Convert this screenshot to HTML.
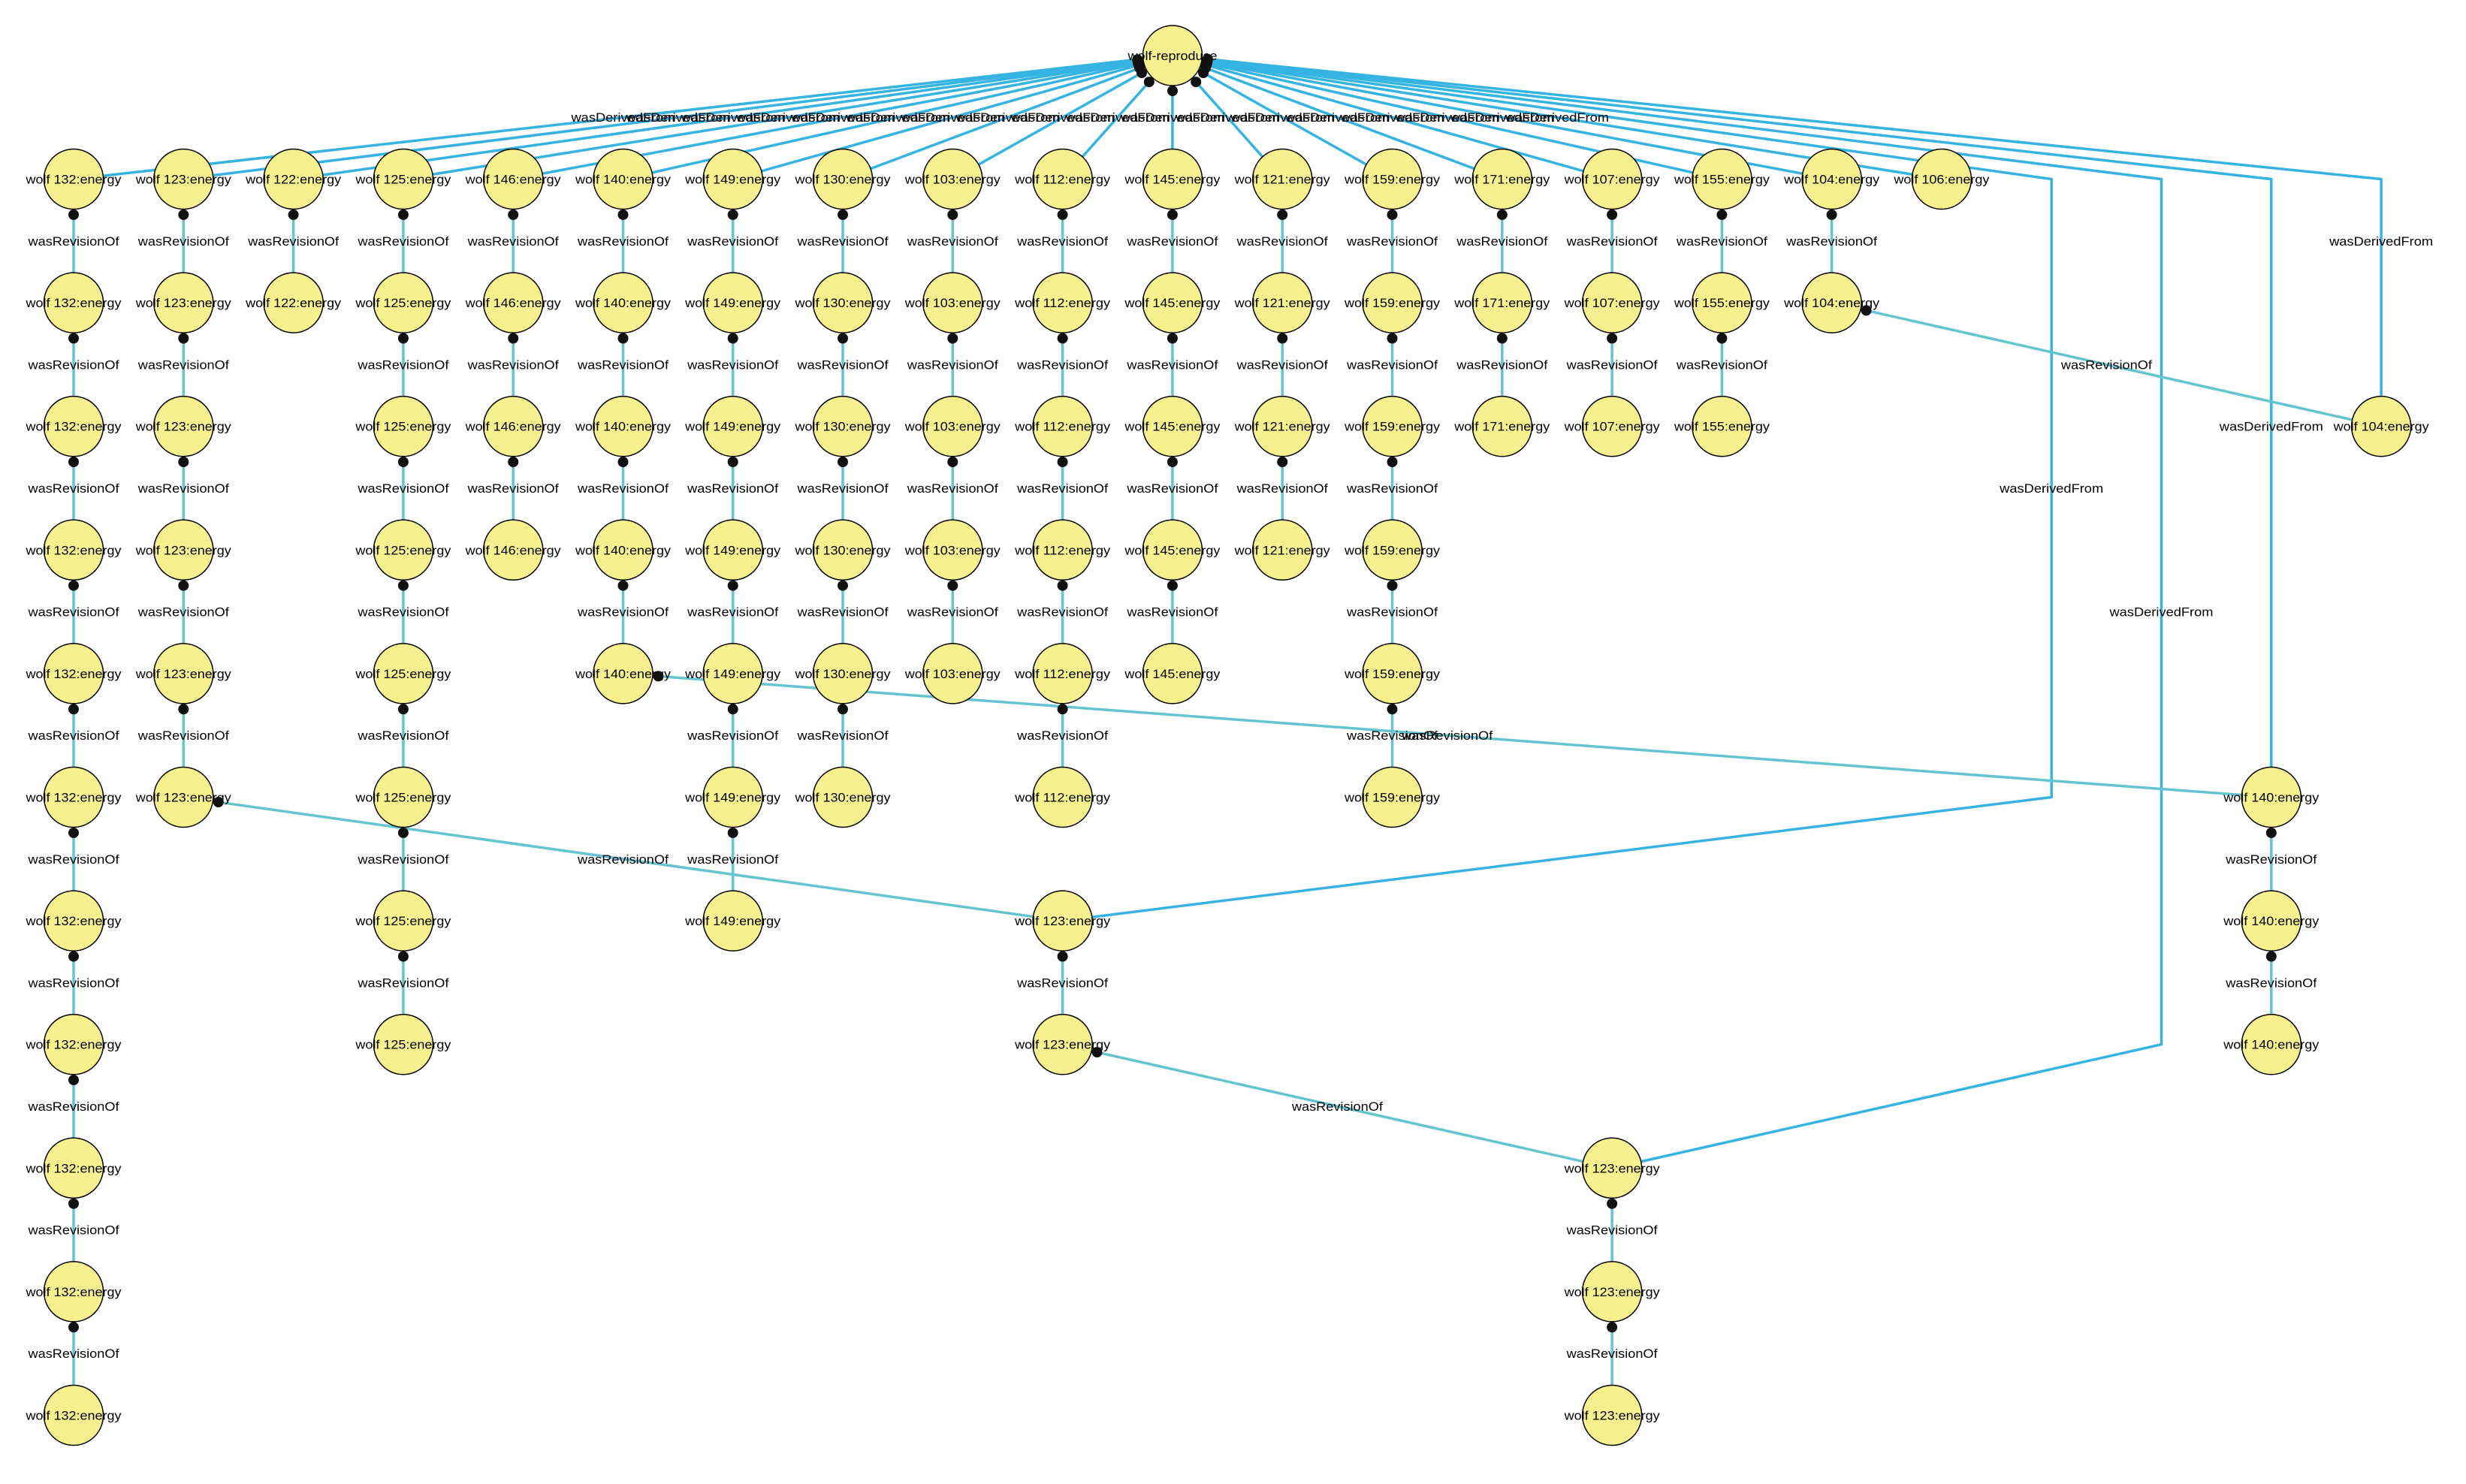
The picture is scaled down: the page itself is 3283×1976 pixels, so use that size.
<!DOCTYPE html>
<html><head><meta charset="utf-8"><title>wolf-reproduce provenance</title>
<style>html,body{margin:0;padding:0;background:#fff;width:3283px;height:1976px;overflow:hidden}svg{display:block}</style>
</head><body>
<svg xmlns="http://www.w3.org/2000/svg" width="3283" height="1976" viewBox="0 0 3283 1976">
<rect width="3283" height="1976" fill="#fff"/>
<!-- derived edges -->
<g fill="none" stroke="#35b4e2" stroke-width="3.5" stroke-linejoin="round">
<path d="M1561 74L98 238.5M1561 74L244.3 238.5M1561 74L390.6 238.5M1561 74L536.9 238.5M1561 74L683.2 238.5M1561 74L829.5 238.5M1561 74L975.7 238.5M1561 74L1122 238.5M1561 74L1268.3 238.5M1561 74L1414.6 238.5M1561 74L1560.9 238.5M1561 74L1707.2 238.5M1561 74L1853.5 238.5M1561 74L1999.8 238.5M1561 74L2146.1 238.5M1561 74L2292.4 238.5M1561 74L2438.6 238.5M1561 74L2584.9 238.5"/>
<path d="M1561 74L2731.2 238.5V1061.5L1414.6 1226.1"/>
<path d="M1561 74L2877.5 238.5V1390.7L2146.1 1555.3"/>
<path d="M1561 74L3023.8 238.5V1061.5"/>
<path d="M1561 74L3170.1 238.5V567.7"/>
</g>
<!-- revision edges -->
<g fill="none" stroke="#64c4d0" stroke-width="3.5">
<path d="M98 238.5V1884.5M244.3 238.5V1061.5M390.6 238.5V403.1M536.9 238.5V1390.7M683.2 238.5V732.3M829.5 238.5V896.9M975.7 238.5V1226.1M1122 238.5V1061.5M1268.3 238.5V896.9M1414.6 238.5V1061.5M1414.6 1226.1V1390.7M1560.9 238.5V896.9M1707.2 238.5V732.3M1853.5 238.5V1061.5M1999.8 238.5V567.7M2146.1 238.5V567.7M2146.1 1555.3V1884.5M2292.4 238.5V567.7M2438.6 238.5V403.1M3023.8 1061.5V1390.7"/>
<path d="M244.3 1061.5L1414.6 1226.1M829.5 896.9L3023.8 1061.5M2438.6 403.1L3170.1 567.7M1414.6 1390.7L2146.1 1555.3"/>
</g>
<!-- nodes -->
<g fill="#f6f08e" stroke="#000" stroke-width="1.5">
<ellipse cx="1561" cy="74" rx="39.5" ry="40"/>
<ellipse cx="98" cy="238.5" rx="39.5" ry="40"/><ellipse cx="98" cy="403.1" rx="39.5" ry="40"/><ellipse cx="98" cy="567.7" rx="39.5" ry="40"/><ellipse cx="98" cy="732.3" rx="39.5" ry="40"/><ellipse cx="98" cy="896.9" rx="39.5" ry="40"/><ellipse cx="98" cy="1061.5" rx="39.5" ry="40"/><ellipse cx="98" cy="1226.1" rx="39.5" ry="40"/><ellipse cx="98" cy="1390.7" rx="39.5" ry="40"/><ellipse cx="98" cy="1555.3" rx="39.5" ry="40"/><ellipse cx="98" cy="1719.9" rx="39.5" ry="40"/><ellipse cx="98" cy="1884.5" rx="39.5" ry="40"/>
<ellipse cx="244.3" cy="238.5" rx="39.5" ry="40"/><ellipse cx="244.3" cy="403.1" rx="39.5" ry="40"/><ellipse cx="244.3" cy="567.7" rx="39.5" ry="40"/><ellipse cx="244.3" cy="732.3" rx="39.5" ry="40"/><ellipse cx="244.3" cy="896.9" rx="39.5" ry="40"/><ellipse cx="244.3" cy="1061.5" rx="39.5" ry="40"/>
<ellipse cx="390.6" cy="238.5" rx="39.5" ry="40"/><ellipse cx="390.6" cy="403.1" rx="39.5" ry="40"/>
<ellipse cx="536.9" cy="238.5" rx="39.5" ry="40"/><ellipse cx="536.9" cy="403.1" rx="39.5" ry="40"/><ellipse cx="536.9" cy="567.7" rx="39.5" ry="40"/><ellipse cx="536.9" cy="732.3" rx="39.5" ry="40"/><ellipse cx="536.9" cy="896.9" rx="39.5" ry="40"/><ellipse cx="536.9" cy="1061.5" rx="39.5" ry="40"/><ellipse cx="536.9" cy="1226.1" rx="39.5" ry="40"/><ellipse cx="536.9" cy="1390.7" rx="39.5" ry="40"/>
<ellipse cx="683.2" cy="238.5" rx="39.5" ry="40"/><ellipse cx="683.2" cy="403.1" rx="39.5" ry="40"/><ellipse cx="683.2" cy="567.7" rx="39.5" ry="40"/><ellipse cx="683.2" cy="732.3" rx="39.5" ry="40"/>
<ellipse cx="829.5" cy="238.5" rx="39.5" ry="40"/><ellipse cx="829.5" cy="403.1" rx="39.5" ry="40"/><ellipse cx="829.5" cy="567.7" rx="39.5" ry="40"/><ellipse cx="829.5" cy="732.3" rx="39.5" ry="40"/><ellipse cx="829.5" cy="896.9" rx="39.5" ry="40"/>
<ellipse cx="975.7" cy="238.5" rx="39.5" ry="40"/><ellipse cx="975.7" cy="403.1" rx="39.5" ry="40"/><ellipse cx="975.7" cy="567.7" rx="39.5" ry="40"/><ellipse cx="975.7" cy="732.3" rx="39.5" ry="40"/><ellipse cx="975.7" cy="896.9" rx="39.5" ry="40"/><ellipse cx="975.7" cy="1061.5" rx="39.5" ry="40"/><ellipse cx="975.7" cy="1226.1" rx="39.5" ry="40"/>
<ellipse cx="1122" cy="238.5" rx="39.5" ry="40"/><ellipse cx="1122" cy="403.1" rx="39.5" ry="40"/><ellipse cx="1122" cy="567.7" rx="39.5" ry="40"/><ellipse cx="1122" cy="732.3" rx="39.5" ry="40"/><ellipse cx="1122" cy="896.9" rx="39.5" ry="40"/><ellipse cx="1122" cy="1061.5" rx="39.5" ry="40"/>
<ellipse cx="1268.3" cy="238.5" rx="39.5" ry="40"/><ellipse cx="1268.3" cy="403.1" rx="39.5" ry="40"/><ellipse cx="1268.3" cy="567.7" rx="39.5" ry="40"/><ellipse cx="1268.3" cy="732.3" rx="39.5" ry="40"/><ellipse cx="1268.3" cy="896.9" rx="39.5" ry="40"/>
<ellipse cx="1414.6" cy="238.5" rx="39.5" ry="40"/><ellipse cx="1414.6" cy="403.1" rx="39.5" ry="40"/><ellipse cx="1414.6" cy="567.7" rx="39.5" ry="40"/><ellipse cx="1414.6" cy="732.3" rx="39.5" ry="40"/><ellipse cx="1414.6" cy="896.9" rx="39.5" ry="40"/><ellipse cx="1414.6" cy="1061.5" rx="39.5" ry="40"/><ellipse cx="1414.6" cy="1226.1" rx="39.5" ry="40"/><ellipse cx="1414.6" cy="1390.7" rx="39.5" ry="40"/>
<ellipse cx="1560.9" cy="238.5" rx="39.5" ry="40"/><ellipse cx="1560.9" cy="403.1" rx="39.5" ry="40"/><ellipse cx="1560.9" cy="567.7" rx="39.5" ry="40"/><ellipse cx="1560.9" cy="732.3" rx="39.5" ry="40"/><ellipse cx="1560.9" cy="896.9" rx="39.5" ry="40"/>
<ellipse cx="1707.2" cy="238.5" rx="39.5" ry="40"/><ellipse cx="1707.2" cy="403.1" rx="39.5" ry="40"/><ellipse cx="1707.2" cy="567.7" rx="39.5" ry="40"/><ellipse cx="1707.2" cy="732.3" rx="39.5" ry="40"/>
<ellipse cx="1853.5" cy="238.5" rx="39.5" ry="40"/><ellipse cx="1853.5" cy="403.1" rx="39.5" ry="40"/><ellipse cx="1853.5" cy="567.7" rx="39.5" ry="40"/><ellipse cx="1853.5" cy="732.3" rx="39.5" ry="40"/><ellipse cx="1853.5" cy="896.9" rx="39.5" ry="40"/><ellipse cx="1853.5" cy="1061.5" rx="39.5" ry="40"/>
<ellipse cx="1999.8" cy="238.5" rx="39.5" ry="40"/><ellipse cx="1999.8" cy="403.1" rx="39.5" ry="40"/><ellipse cx="1999.8" cy="567.7" rx="39.5" ry="40"/>
<ellipse cx="2146.1" cy="238.5" rx="39.5" ry="40"/><ellipse cx="2146.1" cy="403.1" rx="39.5" ry="40"/><ellipse cx="2146.1" cy="567.7" rx="39.5" ry="40"/><ellipse cx="2146.1" cy="1555.3" rx="39.5" ry="40"/><ellipse cx="2146.1" cy="1719.9" rx="39.5" ry="40"/><ellipse cx="2146.1" cy="1884.5" rx="39.5" ry="40"/>
<ellipse cx="2292.4" cy="238.5" rx="39.5" ry="40"/><ellipse cx="2292.4" cy="403.1" rx="39.5" ry="40"/><ellipse cx="2292.4" cy="567.7" rx="39.5" ry="40"/>
<ellipse cx="2438.6" cy="238.5" rx="39.5" ry="40"/><ellipse cx="2438.6" cy="403.1" rx="39.5" ry="40"/>
<ellipse cx="2584.9" cy="238.5" rx="39.5" ry="40"/>
<ellipse cx="3023.8" cy="1061.5" rx="39.5" ry="40"/><ellipse cx="3023.8" cy="1226.1" rx="39.5" ry="40"/><ellipse cx="3023.8" cy="1390.7" rx="39.5" ry="40"/>
<ellipse cx="3170.1" cy="567.7" rx="39.5" ry="40"/>
</g>
<!-- node labels -->
<g font-family="'Liberation Sans', Arial, sans-serif" font-size="17" fill="#000" text-anchor="middle">
<text x="1561" y="80" textLength="119" lengthAdjust="spacingAndGlyphs">wolf-reproduce</text>
<text x="98" y="244.5" textLength="127" lengthAdjust="spacingAndGlyphs">wolf 132:energy</text>
<text x="98" y="409.1" textLength="127" lengthAdjust="spacingAndGlyphs">wolf 132:energy</text>
<text x="98" y="573.7" textLength="127" lengthAdjust="spacingAndGlyphs">wolf 132:energy</text>
<text x="98" y="738.3" textLength="127" lengthAdjust="spacingAndGlyphs">wolf 132:energy</text>
<text x="98" y="902.9" textLength="127" lengthAdjust="spacingAndGlyphs">wolf 132:energy</text>
<text x="98" y="1067.5" textLength="127" lengthAdjust="spacingAndGlyphs">wolf 132:energy</text>
<text x="98" y="1232.1" textLength="127" lengthAdjust="spacingAndGlyphs">wolf 132:energy</text>
<text x="98" y="1396.7" textLength="127" lengthAdjust="spacingAndGlyphs">wolf 132:energy</text>
<text x="98" y="1561.3" textLength="127" lengthAdjust="spacingAndGlyphs">wolf 132:energy</text>
<text x="98" y="1725.9" textLength="127" lengthAdjust="spacingAndGlyphs">wolf 132:energy</text>
<text x="98" y="1890.5" textLength="127" lengthAdjust="spacingAndGlyphs">wolf 132:energy</text>
<text x="244.3" y="244.5" textLength="127" lengthAdjust="spacingAndGlyphs">wolf 123:energy</text>
<text x="244.3" y="409.1" textLength="127" lengthAdjust="spacingAndGlyphs">wolf 123:energy</text>
<text x="244.3" y="573.7" textLength="127" lengthAdjust="spacingAndGlyphs">wolf 123:energy</text>
<text x="244.3" y="738.3" textLength="127" lengthAdjust="spacingAndGlyphs">wolf 123:energy</text>
<text x="244.3" y="902.9" textLength="127" lengthAdjust="spacingAndGlyphs">wolf 123:energy</text>
<text x="244.3" y="1067.5" textLength="127" lengthAdjust="spacingAndGlyphs">wolf 123:energy</text>
<text x="390.6" y="244.5" textLength="127" lengthAdjust="spacingAndGlyphs">wolf 122:energy</text>
<text x="390.6" y="409.1" textLength="127" lengthAdjust="spacingAndGlyphs">wolf 122:energy</text>
<text x="536.9" y="244.5" textLength="127" lengthAdjust="spacingAndGlyphs">wolf 125:energy</text>
<text x="536.9" y="409.1" textLength="127" lengthAdjust="spacingAndGlyphs">wolf 125:energy</text>
<text x="536.9" y="573.7" textLength="127" lengthAdjust="spacingAndGlyphs">wolf 125:energy</text>
<text x="536.9" y="738.3" textLength="127" lengthAdjust="spacingAndGlyphs">wolf 125:energy</text>
<text x="536.9" y="902.9" textLength="127" lengthAdjust="spacingAndGlyphs">wolf 125:energy</text>
<text x="536.9" y="1067.5" textLength="127" lengthAdjust="spacingAndGlyphs">wolf 125:energy</text>
<text x="536.9" y="1232.1" textLength="127" lengthAdjust="spacingAndGlyphs">wolf 125:energy</text>
<text x="536.9" y="1396.7" textLength="127" lengthAdjust="spacingAndGlyphs">wolf 125:energy</text>
<text x="683.2" y="244.5" textLength="127" lengthAdjust="spacingAndGlyphs">wolf 146:energy</text>
<text x="683.2" y="409.1" textLength="127" lengthAdjust="spacingAndGlyphs">wolf 146:energy</text>
<text x="683.2" y="573.7" textLength="127" lengthAdjust="spacingAndGlyphs">wolf 146:energy</text>
<text x="683.2" y="738.3" textLength="127" lengthAdjust="spacingAndGlyphs">wolf 146:energy</text>
<text x="829.5" y="244.5" textLength="127" lengthAdjust="spacingAndGlyphs">wolf 140:energy</text>
<text x="829.5" y="409.1" textLength="127" lengthAdjust="spacingAndGlyphs">wolf 140:energy</text>
<text x="829.5" y="573.7" textLength="127" lengthAdjust="spacingAndGlyphs">wolf 140:energy</text>
<text x="829.5" y="738.3" textLength="127" lengthAdjust="spacingAndGlyphs">wolf 140:energy</text>
<text x="829.5" y="902.9" textLength="127" lengthAdjust="spacingAndGlyphs">wolf 140:energy</text>
<text x="975.7" y="244.5" textLength="127" lengthAdjust="spacingAndGlyphs">wolf 149:energy</text>
<text x="975.7" y="409.1" textLength="127" lengthAdjust="spacingAndGlyphs">wolf 149:energy</text>
<text x="975.7" y="573.7" textLength="127" lengthAdjust="spacingAndGlyphs">wolf 149:energy</text>
<text x="975.7" y="738.3" textLength="127" lengthAdjust="spacingAndGlyphs">wolf 149:energy</text>
<text x="975.7" y="902.9" textLength="127" lengthAdjust="spacingAndGlyphs">wolf 149:energy</text>
<text x="975.7" y="1067.5" textLength="127" lengthAdjust="spacingAndGlyphs">wolf 149:energy</text>
<text x="975.7" y="1232.1" textLength="127" lengthAdjust="spacingAndGlyphs">wolf 149:energy</text>
<text x="1122" y="244.5" textLength="127" lengthAdjust="spacingAndGlyphs">wolf 130:energy</text>
<text x="1122" y="409.1" textLength="127" lengthAdjust="spacingAndGlyphs">wolf 130:energy</text>
<text x="1122" y="573.7" textLength="127" lengthAdjust="spacingAndGlyphs">wolf 130:energy</text>
<text x="1122" y="738.3" textLength="127" lengthAdjust="spacingAndGlyphs">wolf 130:energy</text>
<text x="1122" y="902.9" textLength="127" lengthAdjust="spacingAndGlyphs">wolf 130:energy</text>
<text x="1122" y="1067.5" textLength="127" lengthAdjust="spacingAndGlyphs">wolf 130:energy</text>
<text x="1268.3" y="244.5" textLength="127" lengthAdjust="spacingAndGlyphs">wolf 103:energy</text>
<text x="1268.3" y="409.1" textLength="127" lengthAdjust="spacingAndGlyphs">wolf 103:energy</text>
<text x="1268.3" y="573.7" textLength="127" lengthAdjust="spacingAndGlyphs">wolf 103:energy</text>
<text x="1268.3" y="738.3" textLength="127" lengthAdjust="spacingAndGlyphs">wolf 103:energy</text>
<text x="1268.3" y="902.9" textLength="127" lengthAdjust="spacingAndGlyphs">wolf 103:energy</text>
<text x="1414.6" y="244.5" textLength="127" lengthAdjust="spacingAndGlyphs">wolf 112:energy</text>
<text x="1414.6" y="409.1" textLength="127" lengthAdjust="spacingAndGlyphs">wolf 112:energy</text>
<text x="1414.6" y="573.7" textLength="127" lengthAdjust="spacingAndGlyphs">wolf 112:energy</text>
<text x="1414.6" y="738.3" textLength="127" lengthAdjust="spacingAndGlyphs">wolf 112:energy</text>
<text x="1414.6" y="902.9" textLength="127" lengthAdjust="spacingAndGlyphs">wolf 112:energy</text>
<text x="1414.6" y="1067.5" textLength="127" lengthAdjust="spacingAndGlyphs">wolf 112:energy</text>
<text x="1414.6" y="1232.1" textLength="127" lengthAdjust="spacingAndGlyphs">wolf 123:energy</text>
<text x="1414.6" y="1396.7" textLength="127" lengthAdjust="spacingAndGlyphs">wolf 123:energy</text>
<text x="1560.9" y="244.5" textLength="127" lengthAdjust="spacingAndGlyphs">wolf 145:energy</text>
<text x="1560.9" y="409.1" textLength="127" lengthAdjust="spacingAndGlyphs">wolf 145:energy</text>
<text x="1560.9" y="573.7" textLength="127" lengthAdjust="spacingAndGlyphs">wolf 145:energy</text>
<text x="1560.9" y="738.3" textLength="127" lengthAdjust="spacingAndGlyphs">wolf 145:energy</text>
<text x="1560.9" y="902.9" textLength="127" lengthAdjust="spacingAndGlyphs">wolf 145:energy</text>
<text x="1707.2" y="244.5" textLength="127" lengthAdjust="spacingAndGlyphs">wolf 121:energy</text>
<text x="1707.2" y="409.1" textLength="127" lengthAdjust="spacingAndGlyphs">wolf 121:energy</text>
<text x="1707.2" y="573.7" textLength="127" lengthAdjust="spacingAndGlyphs">wolf 121:energy</text>
<text x="1707.2" y="738.3" textLength="127" lengthAdjust="spacingAndGlyphs">wolf 121:energy</text>
<text x="1853.5" y="244.5" textLength="127" lengthAdjust="spacingAndGlyphs">wolf 159:energy</text>
<text x="1853.5" y="409.1" textLength="127" lengthAdjust="spacingAndGlyphs">wolf 159:energy</text>
<text x="1853.5" y="573.7" textLength="127" lengthAdjust="spacingAndGlyphs">wolf 159:energy</text>
<text x="1853.5" y="738.3" textLength="127" lengthAdjust="spacingAndGlyphs">wolf 159:energy</text>
<text x="1853.5" y="902.9" textLength="127" lengthAdjust="spacingAndGlyphs">wolf 159:energy</text>
<text x="1853.5" y="1067.5" textLength="127" lengthAdjust="spacingAndGlyphs">wolf 159:energy</text>
<text x="1999.8" y="244.5" textLength="127" lengthAdjust="spacingAndGlyphs">wolf 171:energy</text>
<text x="1999.8" y="409.1" textLength="127" lengthAdjust="spacingAndGlyphs">wolf 171:energy</text>
<text x="1999.8" y="573.7" textLength="127" lengthAdjust="spacingAndGlyphs">wolf 171:energy</text>
<text x="2146.1" y="244.5" textLength="127" lengthAdjust="spacingAndGlyphs">wolf 107:energy</text>
<text x="2146.1" y="409.1" textLength="127" lengthAdjust="spacingAndGlyphs">wolf 107:energy</text>
<text x="2146.1" y="573.7" textLength="127" lengthAdjust="spacingAndGlyphs">wolf 107:energy</text>
<text x="2146.1" y="1561.3" textLength="127" lengthAdjust="spacingAndGlyphs">wolf 123:energy</text>
<text x="2146.1" y="1725.9" textLength="127" lengthAdjust="spacingAndGlyphs">wolf 123:energy</text>
<text x="2146.1" y="1890.5" textLength="127" lengthAdjust="spacingAndGlyphs">wolf 123:energy</text>
<text x="2292.4" y="244.5" textLength="127" lengthAdjust="spacingAndGlyphs">wolf 155:energy</text>
<text x="2292.4" y="409.1" textLength="127" lengthAdjust="spacingAndGlyphs">wolf 155:energy</text>
<text x="2292.4" y="573.7" textLength="127" lengthAdjust="spacingAndGlyphs">wolf 155:energy</text>
<text x="2438.6" y="244.5" textLength="127" lengthAdjust="spacingAndGlyphs">wolf 104:energy</text>
<text x="2438.6" y="409.1" textLength="127" lengthAdjust="spacingAndGlyphs">wolf 104:energy</text>
<text x="2584.9" y="244.5" textLength="127" lengthAdjust="spacingAndGlyphs">wolf 106:energy</text>
<text x="3023.8" y="1067.5" textLength="127" lengthAdjust="spacingAndGlyphs">wolf 140:energy</text>
<text x="3023.8" y="1232.1" textLength="127" lengthAdjust="spacingAndGlyphs">wolf 140:energy</text>
<text x="3023.8" y="1396.7" textLength="127" lengthAdjust="spacingAndGlyphs">wolf 140:energy</text>
<text x="3170.1" y="573.7" textLength="127" lengthAdjust="spacingAndGlyphs">wolf 104:energy</text>
</g>
<!-- dots -->
<g fill="#111">
<circle cx="1514.3" cy="79.3" r="7"/><circle cx="1514.4" cy="79.8" r="7"/><circle cx="1514.5" cy="80.5" r="7"/><circle cx="1514.6" cy="81.5" r="7"/><circle cx="1514.8" cy="82.7" r="7"/><circle cx="1515.1" cy="84.3" r="7"/><circle cx="1515.8" cy="86.7" r="7"/><circle cx="1517" cy="90.5" r="7"/><circle cx="1520" cy="97" r="7"/><circle cx="1529.8" cy="109.1" r="7"/><circle cx="1561" cy="121" r="7"/><circle cx="1592.2" cy="109.1" r="7"/><circle cx="1602" cy="97" r="7"/><circle cx="1605" cy="90.5" r="7"/><circle cx="1606.2" cy="86.7" r="7"/><circle cx="1606.9" cy="84.3" r="7"/><circle cx="1607.2" cy="82.7" r="7"/><circle cx="1607.4" cy="81.5" r="7"/><circle cx="1607.5" cy="80.5" r="7"/><circle cx="1607.6" cy="79.8" r="7"/><circle cx="1607.7" cy="79.3" r="7"/><circle cx="1607.8" cy="78.8" r="7"/>
<circle cx="98" cy="285.9" r="7"/><circle cx="98" cy="450.5" r="7"/><circle cx="98" cy="615.1" r="7"/><circle cx="98" cy="779.7" r="7"/><circle cx="98" cy="944.3" r="7"/><circle cx="98" cy="1108.9" r="7"/><circle cx="98" cy="1273.5" r="7"/><circle cx="98" cy="1438.1" r="7"/><circle cx="98" cy="1602.7" r="7"/><circle cx="98" cy="1767.3" r="7"/>
<circle cx="244.3" cy="285.9" r="7"/><circle cx="244.3" cy="450.5" r="7"/><circle cx="244.3" cy="615.1" r="7"/><circle cx="244.3" cy="779.7" r="7"/><circle cx="244.3" cy="944.3" r="7"/>
<circle cx="390.6" cy="285.9" r="7"/>
<circle cx="536.9" cy="285.9" r="7"/><circle cx="536.9" cy="450.5" r="7"/><circle cx="536.9" cy="615.1" r="7"/><circle cx="536.9" cy="779.7" r="7"/><circle cx="536.9" cy="944.3" r="7"/><circle cx="536.9" cy="1108.9" r="7"/><circle cx="536.9" cy="1273.5" r="7"/>
<circle cx="683.2" cy="285.9" r="7"/><circle cx="683.2" cy="450.5" r="7"/><circle cx="683.2" cy="615.1" r="7"/>
<circle cx="829.5" cy="285.9" r="7"/><circle cx="829.5" cy="450.5" r="7"/><circle cx="829.5" cy="615.1" r="7"/><circle cx="829.5" cy="779.7" r="7"/>
<circle cx="975.7" cy="285.9" r="7"/><circle cx="975.7" cy="450.5" r="7"/><circle cx="975.7" cy="615.1" r="7"/><circle cx="975.7" cy="779.7" r="7"/><circle cx="975.7" cy="944.3" r="7"/><circle cx="975.7" cy="1108.9" r="7"/>
<circle cx="1122" cy="285.9" r="7"/><circle cx="1122" cy="450.5" r="7"/><circle cx="1122" cy="615.1" r="7"/><circle cx="1122" cy="779.7" r="7"/><circle cx="1122" cy="944.3" r="7"/>
<circle cx="1268.3" cy="285.9" r="7"/><circle cx="1268.3" cy="450.5" r="7"/><circle cx="1268.3" cy="615.1" r="7"/><circle cx="1268.3" cy="779.7" r="7"/>
<circle cx="1414.6" cy="285.9" r="7"/><circle cx="1414.6" cy="450.5" r="7"/><circle cx="1414.6" cy="615.1" r="7"/><circle cx="1414.6" cy="779.7" r="7"/><circle cx="1414.6" cy="944.3" r="7"/><circle cx="1414.6" cy="1273.5" r="7"/>
<circle cx="1560.9" cy="285.9" r="7"/><circle cx="1560.9" cy="450.5" r="7"/><circle cx="1560.9" cy="615.1" r="7"/><circle cx="1560.9" cy="779.7" r="7"/>
<circle cx="1707.2" cy="285.9" r="7"/><circle cx="1707.2" cy="450.5" r="7"/><circle cx="1707.2" cy="615.1" r="7"/>
<circle cx="1853.5" cy="285.9" r="7"/><circle cx="1853.5" cy="450.5" r="7"/><circle cx="1853.5" cy="615.1" r="7"/><circle cx="1853.5" cy="779.7" r="7"/><circle cx="1853.5" cy="944.3" r="7"/>
<circle cx="1999.8" cy="285.9" r="7"/><circle cx="1999.8" cy="450.5" r="7"/>
<circle cx="2146.1" cy="285.9" r="7"/><circle cx="2146.1" cy="450.5" r="7"/><circle cx="2146.1" cy="1602.7" r="7"/><circle cx="2146.1" cy="1767.3" r="7"/>
<circle cx="2292.4" cy="285.9" r="7"/><circle cx="2292.4" cy="450.5" r="7"/>
<circle cx="2438.6" cy="285.9" r="7"/>
<circle cx="3023.8" cy="1108.9" r="7"/><circle cx="3023.8" cy="1273.5" r="7"/>
<circle cx="290.8" cy="1068" r="7"/><circle cx="876.4" cy="900.4" r="7"/><circle cx="2484.5" cy="413.4" r="7"/><circle cx="1460.5" cy="1401" r="7"/>
</g>
<!-- edge labels -->
<g font-family="'Liberation Sans', Arial, sans-serif" font-size="17" fill="#000" text-anchor="middle">
<text x="829.5" y="162" textLength="138" lengthAdjust="spacingAndGlyphs">wasDerivedFrom</text>
<text x="902.7" y="162" textLength="138" lengthAdjust="spacingAndGlyphs">wasDerivedFrom</text>
<text x="975.8" y="162" textLength="138" lengthAdjust="spacingAndGlyphs">wasDerivedFrom</text>
<text x="1049" y="162" textLength="138" lengthAdjust="spacingAndGlyphs">wasDerivedFrom</text>
<text x="1122.1" y="162" textLength="138" lengthAdjust="spacingAndGlyphs">wasDerivedFrom</text>
<text x="1195.3" y="162" textLength="138" lengthAdjust="spacingAndGlyphs">wasDerivedFrom</text>
<text x="1268.4" y="162" textLength="138" lengthAdjust="spacingAndGlyphs">wasDerivedFrom</text>
<text x="1341.5" y="162" textLength="138" lengthAdjust="spacingAndGlyphs">wasDerivedFrom</text>
<text x="1414.7" y="162" textLength="138" lengthAdjust="spacingAndGlyphs">wasDerivedFrom</text>
<text x="1487.8" y="162" textLength="138" lengthAdjust="spacingAndGlyphs">wasDerivedFrom</text>
<text x="1561" y="162" textLength="138" lengthAdjust="spacingAndGlyphs">wasDerivedFrom</text>
<text x="1634.1" y="162" textLength="138" lengthAdjust="spacingAndGlyphs">wasDerivedFrom</text>
<text x="1707.3" y="162" textLength="138" lengthAdjust="spacingAndGlyphs">wasDerivedFrom</text>
<text x="1780.4" y="162" textLength="138" lengthAdjust="spacingAndGlyphs">wasDerivedFrom</text>
<text x="1853.6" y="162" textLength="138" lengthAdjust="spacingAndGlyphs">wasDerivedFrom</text>
<text x="1926.7" y="162" textLength="138" lengthAdjust="spacingAndGlyphs">wasDerivedFrom</text>
<text x="1999.8" y="162" textLength="138" lengthAdjust="spacingAndGlyphs">wasDerivedFrom</text>
<text x="2073" y="162" textLength="138" lengthAdjust="spacingAndGlyphs">wasDerivedFrom</text>
<text x="2731.2" y="656" textLength="138" lengthAdjust="spacingAndGlyphs">wasDerivedFrom</text>
<text x="2877.5" y="820.6" textLength="138" lengthAdjust="spacingAndGlyphs">wasDerivedFrom</text>
<text x="3023.8" y="573.7" textLength="138" lengthAdjust="spacingAndGlyphs">wasDerivedFrom</text>
<text x="3170.1" y="326.8" textLength="138" lengthAdjust="spacingAndGlyphs">wasDerivedFrom</text>

<text x="98" y="326.8" textLength="121" lengthAdjust="spacingAndGlyphs">wasRevisionOf</text>
<text x="98" y="491.4" textLength="121" lengthAdjust="spacingAndGlyphs">wasRevisionOf</text>
<text x="98" y="656" textLength="121" lengthAdjust="spacingAndGlyphs">wasRevisionOf</text>
<text x="98" y="820.6" textLength="121" lengthAdjust="spacingAndGlyphs">wasRevisionOf</text>
<text x="98" y="985.2" textLength="121" lengthAdjust="spacingAndGlyphs">wasRevisionOf</text>
<text x="98" y="1149.8" textLength="121" lengthAdjust="spacingAndGlyphs">wasRevisionOf</text>
<text x="98" y="1314.4" textLength="121" lengthAdjust="spacingAndGlyphs">wasRevisionOf</text>
<text x="98" y="1479" textLength="121" lengthAdjust="spacingAndGlyphs">wasRevisionOf</text>
<text x="98" y="1643.6" textLength="121" lengthAdjust="spacingAndGlyphs">wasRevisionOf</text>
<text x="98" y="1808.2" textLength="121" lengthAdjust="spacingAndGlyphs">wasRevisionOf</text>
<text x="244.3" y="326.8" textLength="121" lengthAdjust="spacingAndGlyphs">wasRevisionOf</text>
<text x="244.3" y="491.4" textLength="121" lengthAdjust="spacingAndGlyphs">wasRevisionOf</text>
<text x="244.3" y="656" textLength="121" lengthAdjust="spacingAndGlyphs">wasRevisionOf</text>
<text x="244.3" y="820.6" textLength="121" lengthAdjust="spacingAndGlyphs">wasRevisionOf</text>
<text x="244.3" y="985.2" textLength="121" lengthAdjust="spacingAndGlyphs">wasRevisionOf</text>
<text x="390.6" y="326.8" textLength="121" lengthAdjust="spacingAndGlyphs">wasRevisionOf</text>
<text x="536.9" y="326.8" textLength="121" lengthAdjust="spacingAndGlyphs">wasRevisionOf</text>
<text x="536.9" y="491.4" textLength="121" lengthAdjust="spacingAndGlyphs">wasRevisionOf</text>
<text x="536.9" y="656" textLength="121" lengthAdjust="spacingAndGlyphs">wasRevisionOf</text>
<text x="536.9" y="820.6" textLength="121" lengthAdjust="spacingAndGlyphs">wasRevisionOf</text>
<text x="536.9" y="985.2" textLength="121" lengthAdjust="spacingAndGlyphs">wasRevisionOf</text>
<text x="536.9" y="1149.8" textLength="121" lengthAdjust="spacingAndGlyphs">wasRevisionOf</text>
<text x="536.9" y="1314.4" textLength="121" lengthAdjust="spacingAndGlyphs">wasRevisionOf</text>
<text x="683.2" y="326.8" textLength="121" lengthAdjust="spacingAndGlyphs">wasRevisionOf</text>
<text x="683.2" y="491.4" textLength="121" lengthAdjust="spacingAndGlyphs">wasRevisionOf</text>
<text x="683.2" y="656" textLength="121" lengthAdjust="spacingAndGlyphs">wasRevisionOf</text>
<text x="829.5" y="326.8" textLength="121" lengthAdjust="spacingAndGlyphs">wasRevisionOf</text>
<text x="829.5" y="491.4" textLength="121" lengthAdjust="spacingAndGlyphs">wasRevisionOf</text>
<text x="829.5" y="656" textLength="121" lengthAdjust="spacingAndGlyphs">wasRevisionOf</text>
<text x="829.5" y="820.6" textLength="121" lengthAdjust="spacingAndGlyphs">wasRevisionOf</text>
<text x="975.7" y="326.8" textLength="121" lengthAdjust="spacingAndGlyphs">wasRevisionOf</text>
<text x="975.7" y="491.4" textLength="121" lengthAdjust="spacingAndGlyphs">wasRevisionOf</text>
<text x="975.7" y="656" textLength="121" lengthAdjust="spacingAndGlyphs">wasRevisionOf</text>
<text x="975.7" y="820.6" textLength="121" lengthAdjust="spacingAndGlyphs">wasRevisionOf</text>
<text x="975.7" y="985.2" textLength="121" lengthAdjust="spacingAndGlyphs">wasRevisionOf</text>
<text x="975.7" y="1149.8" textLength="121" lengthAdjust="spacingAndGlyphs">wasRevisionOf</text>
<text x="1122" y="326.8" textLength="121" lengthAdjust="spacingAndGlyphs">wasRevisionOf</text>
<text x="1122" y="491.4" textLength="121" lengthAdjust="spacingAndGlyphs">wasRevisionOf</text>
<text x="1122" y="656" textLength="121" lengthAdjust="spacingAndGlyphs">wasRevisionOf</text>
<text x="1122" y="820.6" textLength="121" lengthAdjust="spacingAndGlyphs">wasRevisionOf</text>
<text x="1122" y="985.2" textLength="121" lengthAdjust="spacingAndGlyphs">wasRevisionOf</text>
<text x="1268.3" y="326.8" textLength="121" lengthAdjust="spacingAndGlyphs">wasRevisionOf</text>
<text x="1268.3" y="491.4" textLength="121" lengthAdjust="spacingAndGlyphs">wasRevisionOf</text>
<text x="1268.3" y="656" textLength="121" lengthAdjust="spacingAndGlyphs">wasRevisionOf</text>
<text x="1268.3" y="820.6" textLength="121" lengthAdjust="spacingAndGlyphs">wasRevisionOf</text>
<text x="1414.6" y="326.8" textLength="121" lengthAdjust="spacingAndGlyphs">wasRevisionOf</text>
<text x="1414.6" y="491.4" textLength="121" lengthAdjust="spacingAndGlyphs">wasRevisionOf</text>
<text x="1414.6" y="656" textLength="121" lengthAdjust="spacingAndGlyphs">wasRevisionOf</text>
<text x="1414.6" y="820.6" textLength="121" lengthAdjust="spacingAndGlyphs">wasRevisionOf</text>
<text x="1414.6" y="985.2" textLength="121" lengthAdjust="spacingAndGlyphs">wasRevisionOf</text>
<text x="1414.6" y="1314.4" textLength="121" lengthAdjust="spacingAndGlyphs">wasRevisionOf</text>
<text x="1560.9" y="326.8" textLength="121" lengthAdjust="spacingAndGlyphs">wasRevisionOf</text>
<text x="1560.9" y="491.4" textLength="121" lengthAdjust="spacingAndGlyphs">wasRevisionOf</text>
<text x="1560.9" y="656" textLength="121" lengthAdjust="spacingAndGlyphs">wasRevisionOf</text>
<text x="1560.9" y="820.6" textLength="121" lengthAdjust="spacingAndGlyphs">wasRevisionOf</text>
<text x="1707.2" y="326.8" textLength="121" lengthAdjust="spacingAndGlyphs">wasRevisionOf</text>
<text x="1707.2" y="491.4" textLength="121" lengthAdjust="spacingAndGlyphs">wasRevisionOf</text>
<text x="1707.2" y="656" textLength="121" lengthAdjust="spacingAndGlyphs">wasRevisionOf</text>
<text x="1853.5" y="326.8" textLength="121" lengthAdjust="spacingAndGlyphs">wasRevisionOf</text>
<text x="1853.5" y="491.4" textLength="121" lengthAdjust="spacingAndGlyphs">wasRevisionOf</text>
<text x="1853.5" y="656" textLength="121" lengthAdjust="spacingAndGlyphs">wasRevisionOf</text>
<text x="1853.5" y="820.6" textLength="121" lengthAdjust="spacingAndGlyphs">wasRevisionOf</text>
<text x="1853.5" y="985.2" textLength="121" lengthAdjust="spacingAndGlyphs">wasRevisionOf</text>
<text x="1999.8" y="326.8" textLength="121" lengthAdjust="spacingAndGlyphs">wasRevisionOf</text>
<text x="1999.8" y="491.4" textLength="121" lengthAdjust="spacingAndGlyphs">wasRevisionOf</text>
<text x="2146.1" y="326.8" textLength="121" lengthAdjust="spacingAndGlyphs">wasRevisionOf</text>
<text x="2146.1" y="491.4" textLength="121" lengthAdjust="spacingAndGlyphs">wasRevisionOf</text>
<text x="2146.1" y="1643.6" textLength="121" lengthAdjust="spacingAndGlyphs">wasRevisionOf</text>
<text x="2146.1" y="1808.2" textLength="121" lengthAdjust="spacingAndGlyphs">wasRevisionOf</text>
<text x="2292.4" y="326.8" textLength="121" lengthAdjust="spacingAndGlyphs">wasRevisionOf</text>
<text x="2292.4" y="491.4" textLength="121" lengthAdjust="spacingAndGlyphs">wasRevisionOf</text>
<text x="2438.6" y="326.8" textLength="121" lengthAdjust="spacingAndGlyphs">wasRevisionOf</text>
<text x="3023.8" y="1149.8" textLength="121" lengthAdjust="spacingAndGlyphs">wasRevisionOf</text>
<text x="3023.8" y="1314.4" textLength="121" lengthAdjust="spacingAndGlyphs">wasRevisionOf</text>
<text x="829.5" y="1149.8" textLength="121" lengthAdjust="spacingAndGlyphs">wasRevisionOf</text>
<text x="1926.7" y="985.2" textLength="121" lengthAdjust="spacingAndGlyphs">wasRevisionOf</text>
<text x="2804.4" y="491.4" textLength="121" lengthAdjust="spacingAndGlyphs">wasRevisionOf</text>
<text x="1780.4" y="1479" textLength="121" lengthAdjust="spacingAndGlyphs">wasRevisionOf</text>
</g>
</svg>
</body></html>
